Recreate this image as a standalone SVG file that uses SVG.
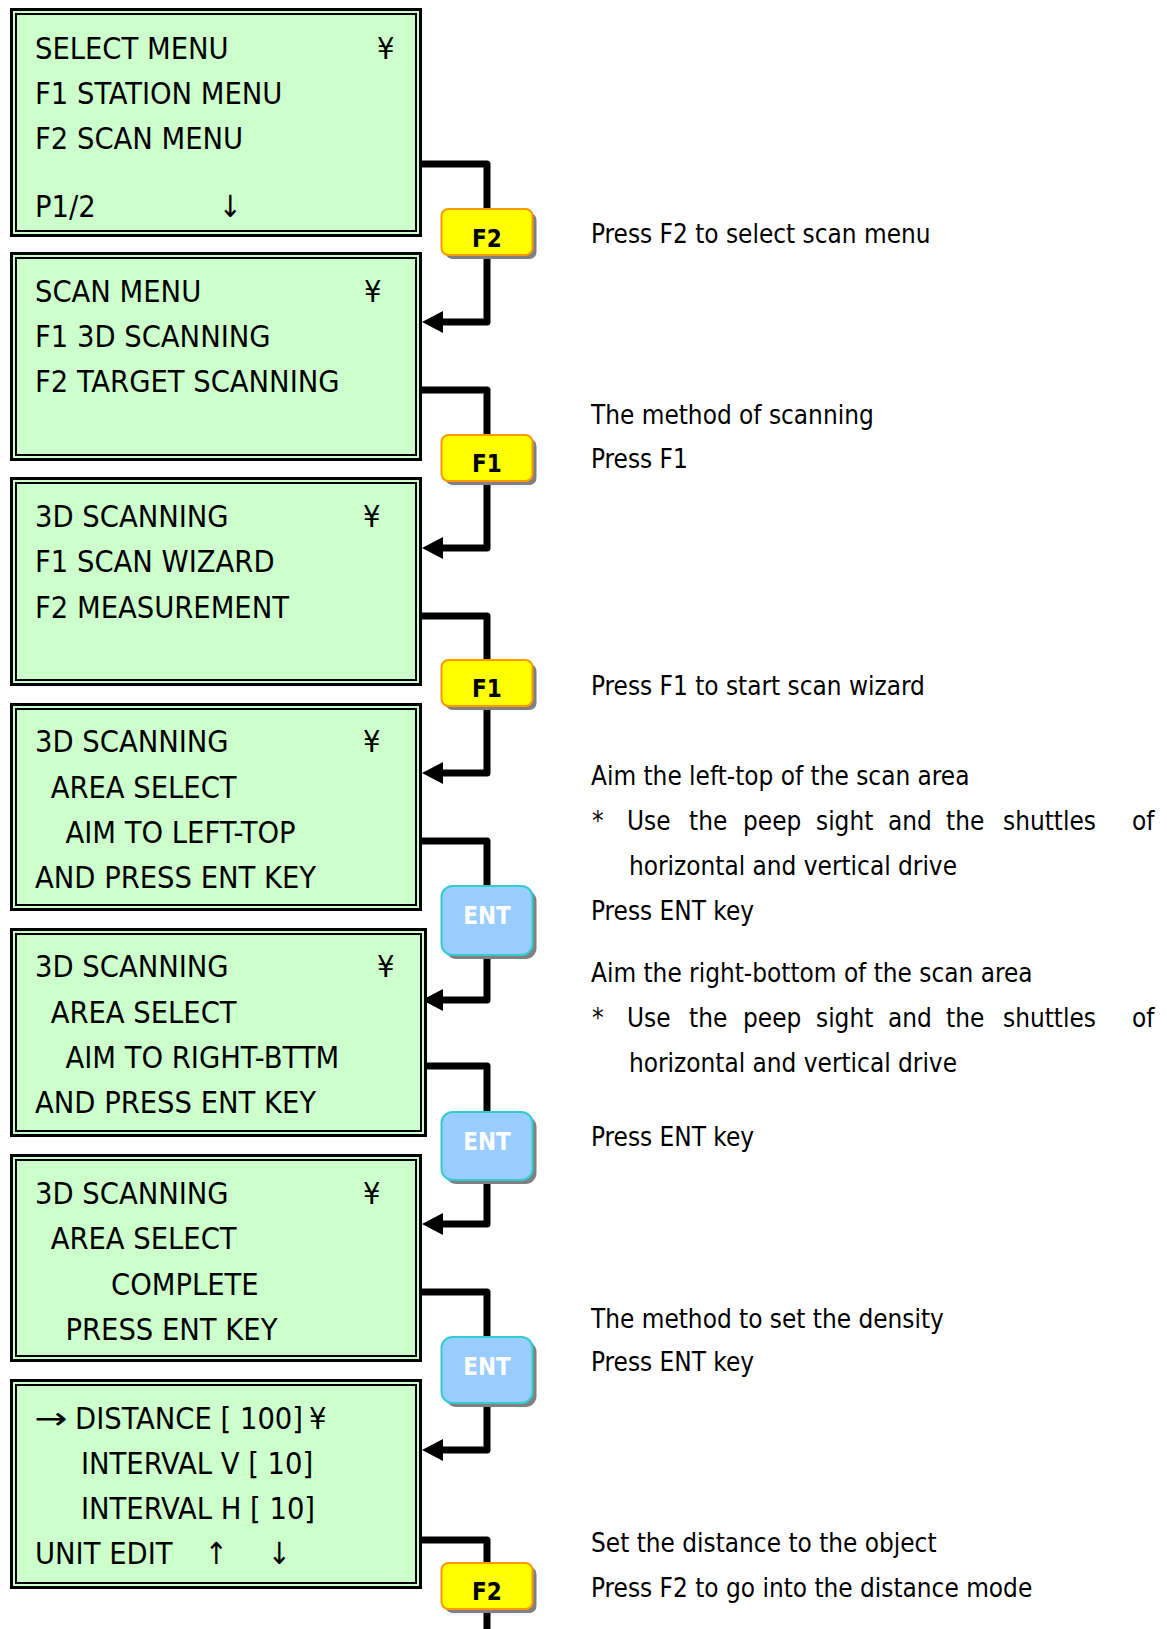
<svg xmlns="http://www.w3.org/2000/svg" width="1167" height="1629" viewBox="0 0 1167 1629">
<style>
text{font-family:"DejaVu Sans Condensed","DejaVu Sans",sans-serif;font-stretch:condensed;fill:#000}
.bo{fill:#CCFFCC;stroke:#000;stroke-width:3}
.bi{fill:none;stroke:#000;stroke-width:2}
.lcd{font-size:30.5px}
.note{font-size:25.9px}
.conn{fill:none;stroke:#000;stroke-width:7;stroke-linejoin:round}
.ah{fill:#000}
.sh{fill:#808080}
.kf{fill:#FFFF00;stroke:#FF9900;stroke-width:2}
.ke{fill:#99CCFF;stroke:#33CCCC;stroke-width:2}
.kt{font-size:24px;font-weight:bold;text-anchor:middle}
.kw{fill:#fff}
</style>
<rect width="1167" height="1629" fill="#fff"/>

<g id="connectors">
<path class="conn" d="M419 164 H487 V322 H440"/>
<polygon class="ah" points="422,322 443,311 443,333"/>
<path class="conn" d="M419 390 H487 V548 H440"/>
<polygon class="ah" points="422,548 443,537 443,559"/>
<path class="conn" d="M419 616 H487 V773 H440"/>
<polygon class="ah" points="422,773 443,762 443,784"/>
<path class="conn" d="M419 841 H487 V1000 H440"/>
<polygon class="ah" points="422,1000 443,989 443,1011"/>
<path class="conn" d="M424 1066 H487 V1224 H440"/>
<polygon class="ah" points="422,1224 443,1213 443,1235"/>
<path class="conn" d="M419 1292 H487 V1450 H440"/>
<polygon class="ah" points="422,1450 443,1439 443,1461"/>
<path class="conn" d="M419 1540 H487 V1632"/>
</g>

<g id="screen-select-menu">
<rect class="bo" x="11.5" y="9.5" width="409" height="226"/>
<rect class="bi" x="16" y="14" width="400" height="217"/>
<text class="lcd" x="35" y="59">SELECT MENU</text>
<text class="lcd" x="377" y="59">¥</text>
<text class="lcd" x="35" y="104">F1 STATION MENU</text>
<text class="lcd" x="35" y="149">F2 SCAN MENU</text>
<text class="lcd" x="35" y="217">P1/2</text>
<text class="lcd" x="219" y="217">↓</text>
</g>

<g id="screen-scan-menu">
<rect class="bo" x="11.5" y="253.5" width="409" height="206"/>
<rect class="bi" x="16" y="258" width="400" height="197"/>
<text class="lcd" x="35" y="301.7">SCAN MENU</text>
<text class="lcd" x="364" y="301.7">¥</text>
<text class="lcd" x="35" y="346.7">F1 3D SCANNING</text>
<text class="lcd" x="35" y="392.3">F2 TARGET SCANNING</text>
</g>

<g id="screen-3d-scanning">
<rect class="bo" x="11.5" y="478.5" width="409" height="206"/>
<rect class="bi" x="16" y="483" width="400" height="197"/>
<text class="lcd" x="35" y="526.7">3D SCANNING</text>
<text class="lcd" x="363" y="526.7">¥</text>
<text class="lcd" x="35" y="572.3">F1 SCAN WIZARD</text>
<text class="lcd" x="35" y="617.7">F2 MEASUREMENT</text>
</g>

<g id="screen-left-top">
<rect class="bo" x="11.5" y="704.5" width="409" height="205"/>
<rect class="bi" x="16" y="709" width="400" height="196"/>
<text class="lcd" x="35" y="752.3">3D SCANNING</text>
<text class="lcd" x="363" y="752.3">¥</text>
<text class="lcd" x="50.7" y="798.3">AREA SELECT</text>
<text class="lcd" x="65.5" y="843.3">AIM TO LEFT-TOP</text>
<text class="lcd" x="35" y="888.3">AND PRESS ENT KEY</text>
</g>

<g id="screen-right-bottom">
<rect class="bo" x="11.5" y="929.5" width="414" height="206"/>
<rect class="bi" x="16" y="934" width="405" height="197"/>
<text class="lcd" x="35" y="977.3">3D SCANNING</text>
<text class="lcd" x="377" y="977.3">¥</text>
<text class="lcd" x="50.7" y="1023.3">AREA SELECT</text>
<text class="lcd" x="65.5" y="1068.3">AIM TO RIGHT-BTTM</text>
<text class="lcd" x="35" y="1113.3">AND PRESS ENT KEY</text>
</g>

<g id="screen-complete">
<rect class="bo" x="11.5" y="1155.5" width="409" height="205"/>
<rect class="bi" x="16" y="1160" width="400" height="196"/>
<text class="lcd" x="35" y="1204">3D SCANNING</text>
<text class="lcd" x="363" y="1204">¥</text>
<text class="lcd" x="50.7" y="1249.3">AREA SELECT</text>
<text class="lcd" x="111" y="1295">COMPLETE</text>
<text class="lcd" x="65.5" y="1340">PRESS ENT KEY</text>
</g>

<g id="screen-density">
<rect class="bo" x="11.5" y="1380.5" width="409" height="207"/>
<rect class="bi" x="16" y="1385" width="400" height="198"/>
<text class="lcd" transform="translate(34 1429.3) scale(1.45 1)">→</text>
<text class="lcd" x="75" y="1429.3">DISTANCE [ 100]</text>
<text class="lcd" x="309" y="1429.3">¥</text>
<text class="lcd" x="81" y="1474">INTERVAL V [ 10]</text>
<text class="lcd" x="81" y="1519.3">INTERVAL H [ 10]</text>
<text class="lcd" x="35" y="1564.3">UNIT EDIT</text>
<text class="lcd" x="205" y="1564.3">↑</text>
<text class="lcd" x="268" y="1564.3">↓</text>
</g>

<g id="key-f2-a">
<rect class="sh" x="445.5" y="213" width="91" height="46" rx="7"/>
<rect class="kf" x="441.5" y="209" width="91" height="46" rx="7"/>
<text class="kt" x="487" y="246.7">F2</text>
</g>
<g id="key-f1-a">
<rect class="sh" x="445.5" y="439" width="91" height="46" rx="7"/>
<rect class="kf" x="441.5" y="435" width="91" height="46" rx="7"/>
<text class="kt" x="487" y="471.7">F1</text>
</g>
<g id="key-f1-b">
<rect class="sh" x="445.5" y="664" width="91" height="46" rx="7"/>
<rect class="kf" x="441.5" y="660" width="91" height="46" rx="7"/>
<text class="kt" x="487" y="697">F1</text>
</g>
<g id="key-ent-a">
<rect class="sh" x="445.5" y="890" width="91" height="69" rx="11"/>
<rect class="ke" x="441.5" y="886" width="91" height="69" rx="11"/>
<text class="kt kw" x="487" y="924">ENT</text>
</g>
<g id="key-ent-b">
<rect class="sh" x="445.5" y="1116" width="91" height="68" rx="11"/>
<rect class="ke" x="441.5" y="1112" width="91" height="68" rx="11"/>
<text class="kt kw" x="487" y="1150">ENT</text>
</g>
<g id="key-ent-c">
<rect class="sh" x="445.5" y="1341" width="91" height="66" rx="11"/>
<rect class="ke" x="441.5" y="1337" width="91" height="66" rx="11"/>
<text class="kt kw" x="487" y="1375">ENT</text>
</g>
<g id="key-f2-b">
<rect class="sh" x="445.5" y="1567" width="91" height="46" rx="7"/>
<rect class="kf" x="441.5" y="1563" width="91" height="46" rx="7"/>
<text class="kt" x="487" y="1600">F2</text>
</g>

<g id="notes">
<text class="note" x="591" y="243">Press F2 to select scan menu</text>
<text class="note" x="591" y="424">The method of scanning</text>
<text class="note" x="591" y="468">Press F1</text>
<text class="note" x="591" y="695">Press F1 to start scan wizard</text>
<text class="note" x="591" y="785">Aim the left-top of the scan area</text>
<text class="note" y="830"><tspan x="592">*</tspan><tspan x="627">Use</tspan><tspan x="689">the</tspan><tspan x="743">peep</tspan><tspan x="816">sight</tspan><tspan x="888">and</tspan><tspan x="946">the</tspan><tspan x="1003">shuttles</tspan><tspan x="1132">of</tspan></text>
<text class="note" x="629" y="875">horizontal and vertical drive</text>
<text class="note" x="591" y="920">Press ENT key</text>
<text class="note" x="591" y="981.7">Aim the right-bottom of the scan area</text>
<text class="note" y="1026.7"><tspan x="592">*</tspan><tspan x="627">Use</tspan><tspan x="689">the</tspan><tspan x="743">peep</tspan><tspan x="816">sight</tspan><tspan x="888">and</tspan><tspan x="946">the</tspan><tspan x="1003">shuttles</tspan><tspan x="1132">of</tspan></text>
<text class="note" x="629" y="1071.7">horizontal and vertical drive</text>
<text class="note" x="591" y="1146">Press ENT key</text>
<text class="note" x="591" y="1328">The method to set the density</text>
<text class="note" x="591" y="1370.7">Press ENT key</text>
<text class="note" x="591" y="1551.7">Set the distance to the object</text>
<text class="note" x="591" y="1596.7">Press F2 to go into the distance mode</text>
</g>
</svg>
